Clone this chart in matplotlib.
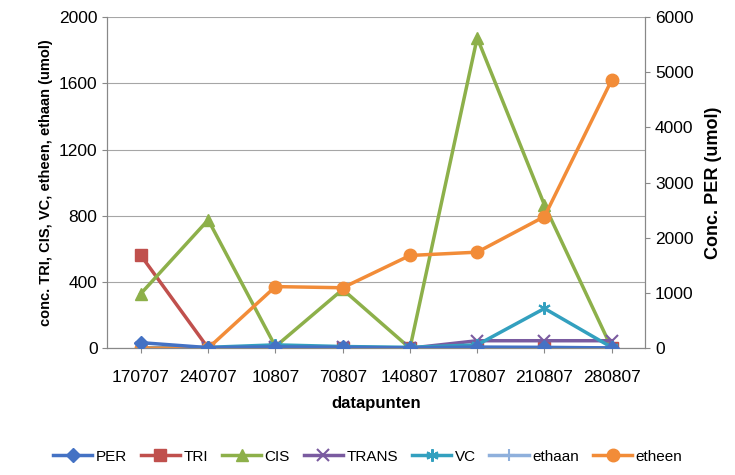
import matplotlib.pyplot as plt
import numpy as np

plt.rcParams['font.family'] = ['Liberation Sans', 'DejaVu Sans']

cats = ["170707","240707","10807","70807","140807","170807","210807","280807"]
PER = [100, 10, 25, 15, 5, 20, 15, 5]
TRI = [560, 0, 0, 0, 0, 0, 0, 0]
CIS = [330, 775, 10, 355, 0, 1875, 865, 0]
TRANS = [0, 0, 5, 5, 0, 45, 45, 45]
VC = [0, 5, 20, 10, 5, 20, 240, 5]
ethaan = [0, 0, 0, 0, 0, 0, 0, 0]
etheen = [0, 0, 372, 365, 560, 580, 795, 1620]

fig = plt.figure(figsize=(7.35, 4.75), dpi=100)
ax = fig.add_axes([0.146, 0.267, 0.732, 0.697])
ax2 = ax.twinx()
x = np.arange(len(cats))
lw = 2.5
h = []
h += ax2.plot(x, PER, color="#4472C4", marker="D", ms=7, lw=lw, label="PER", zorder=3)
h += ax.plot(x, TRI, color="#C0504D", marker="s", ms=8, lw=lw, label="TRI")
h += ax.plot(x, CIS, color="#8DB04A", marker="^", ms=9, lw=lw, label="CIS")
h += ax.plot(x, TRANS, color="#7A5BA0", marker="x", ms=9, mew=1.5, lw=lw, label="TRANS")
h += ax.plot(x, VC, color="#33A0BF", marker=(6, 2, 0), ms=9, mew=1.5, lw=lw, label="VC")
h += ax.plot(x, ethaan, color="#8FB0DC", marker="+", ms=9, mew=1.5, lw=lw, label="ethaan")
h += ax.plot(x, etheen, color="#F28C38", marker="o", ms=9, lw=lw, label="etheen")

ax.set_xlim(-0.5, 7.5)
ax.set_ylim(0, 2000)
ax.set_yticks(range(0, 2001, 400))
ax.yaxis.grid(True, color="#A6A6A6", lw=0.8)
ax.set_axisbelow(True)
ax2.set_ylim(0, 6000)
ax2.set_yticks(range(0, 6001, 1000))
ax.set_xticks(x)
ax.set_xticklabels(cats, fontsize=12.5)
ax.tick_params(axis="x", pad=12)
ax.tick_params(axis="y", labelsize=12.5)
ax2.tick_params(axis="y", labelsize=12.5)
for a in (ax, ax2):
    a.spines["top"].set_visible(False)
    for s in ("left", "right", "bottom"):
        a.spines[s].set_color("#888888")
    a.tick_params(color="#888888")
ax.set_xlabel("datapunten", fontsize=12, fontweight="bold", labelpad=8)
ax.set_ylabel("conc. TRI, CIS, VC, etheen, ethaan (umol)", fontsize=10.5, fontweight="bold")
ax2.set_ylabel("Conc. PER (umol)", fontsize=13, fontweight="bold", labelpad=8)
fig.legend(handles=h, loc="lower center", ncol=7, frameon=False, fontsize=11,
           bbox_to_anchor=(0.5, -0.005), handlelength=2.6, columnspacing=0.9, handletextpad=0.2)
fig.savefig("out.png", dpi=100)
